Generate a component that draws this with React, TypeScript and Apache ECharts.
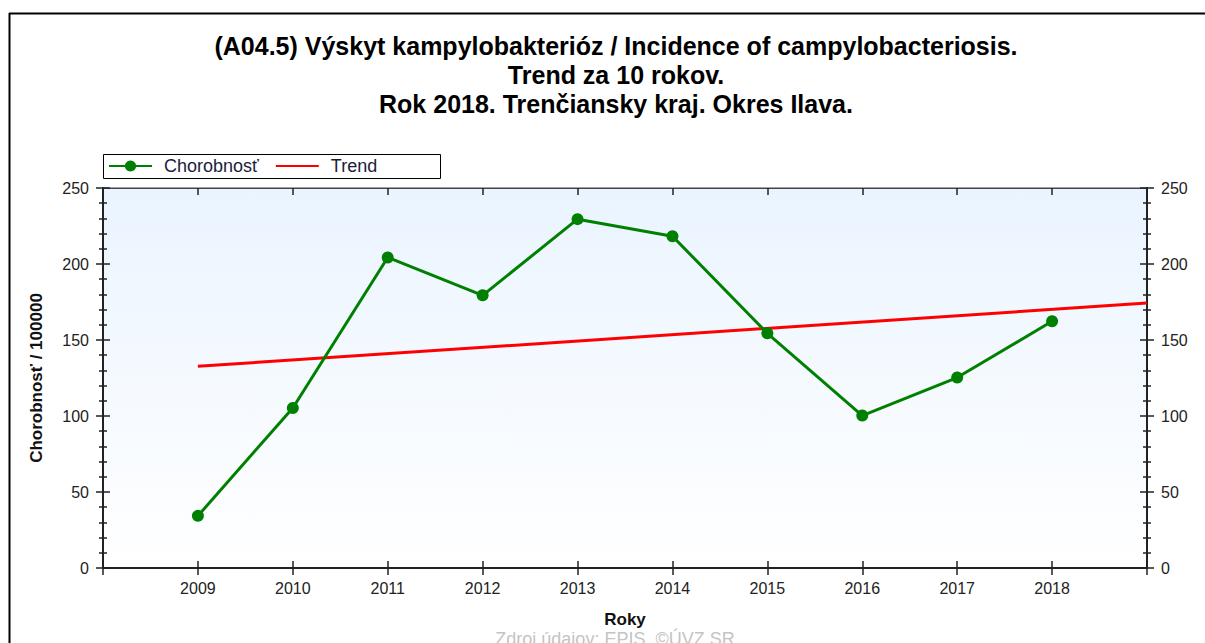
import React, { useEffect, useRef } from "react";
import * as echarts from "echarts";

const titleLines = [
  "(A04.5) Výskyt kampylobakterióz / Incidence of campylobacteriosis.",
  "Trend za 10 rokov.",
  "Rok 2018. Trenčiansky kraj. Okres Ilava.",
];
const years = [2009, 2010, 2011, 2012, 2013, 2014, 2015, 2016, 2017, 2018];
const incidence = [34.3, 105.3, 204.3, 179.4, 229.5, 218.3, 154.4, 100.3, 125.3, 162.3];
const trendYears = [2009, 2019];
const trendValues = [132.7, 174.3];
const seriesNames = ["Chorobnosť", "Trend"];
const yAxisName = "Chorobnosť / 100000";
const xAxisName = "Roky";
const footer = "Zdroj údajov: EPIS, ©ÚVZ SR";

const FONT = "Liberation Sans, Arial, sans-serif";

export default function App() {
  const ref = useRef<HTMLDivElement>(null);
  useEffect(() => {
    if (!ref.current) return;
    const chart = echarts.init(ref.current, null, { renderer: "svg" });
    const labelFmt = (v: number) => (v >= years[0] && v <= years[years.length - 1] ? String(v) : "");
    const tickStyle = { color: "#222", width: 1.5 };
    const yCommon = {
      type: "value",
      min: 0,
      max: 250,
      interval: 50,
      splitLine: { show: false },
      axisLine: { show: true, lineStyle: { color: "#222", width: 2 } },
      axisTick: { show: true, length: 7, lineStyle: tickStyle },
      minorTick: { show: true, splitNumber: 5, length: 4, lineStyle: tickStyle },
      axisLabel: { fontSize: 16, color: "#222", fontFamily: FONT, margin: 14 },
    };
    const yInner = {
      type: "value",
      min: 0,
      max: 250,
      interval: 50,
      splitLine: { show: false },
      axisLine: { show: false },
      axisTick: { show: true, inside: true, length: 7, lineStyle: tickStyle },
      minorTick: { show: true, splitNumber: 5, length: 4, lineStyle: tickStyle },
      axisLabel: { show: false },
    };
    chart.setOption({
      animation: false,
      backgroundColor: "#fff",
      textStyle: { fontFamily: FONT },
      graphic: [
        { type: "line", shape: { x1: 9, y1: 13.5, x2: 1205, y2: 13.5 }, style: { stroke: "#000", lineWidth: 2 } },
        { type: "line", shape: { x1: 9.5, y1: 13, x2: 9.5, y2: 643 }, style: { stroke: "#000", lineWidth: 2 } },
        {
          type: "text",
          x: 616,
          y: 31,
          style: {
            text: titleLines.join("\n"),
            textAlign: "center",
            font: "bold 25px " + FONT,
            lineHeight: 29,
            fill: "#000",
          },
        },
        {
          type: "rect",
          shape: { x: 103.5, y: 154.5, width: 337, height: 24 },
          style: { fill: "#fff", stroke: "#000", lineWidth: 1 },
          z: -1,
        },
        {
          type: "text",
          x: 615,
          y: 630,
          style: { text: footer, textAlign: "center", font: "18px " + FONT, fill: "#c4c4c4" },
        },
      ],
      legend: {
        left: 108,
        top: 157,
        itemWidth: 43,
        itemHeight: 14,
        itemGap: 16,
        padding: 0,
        textStyle: { fontSize: 18, color: "#1c1c3a", fontFamily: FONT, padding: [0, 0, 0, 7] },
        data: seriesNames,
      },
      grid: {
        left: 103,
        right: 58,
        top: 188,
        bottom: 75,
        show: true,
        borderColor: "#444",
        borderWidth: 1,
        backgroundColor: new echarts.graphic.LinearGradient(0, 0, 0, 1, [
          { offset: 0, color: "#eaf4ff" },
          { offset: 1, color: "#ffffff" },
        ]),
      },
      xAxis: [
        {
          type: "value",
          min: 2008,
          max: 2019,
          interval: 1,
          position: "bottom",
          splitLine: { show: false },
          axisLine: { show: true, onZero: false, lineStyle: { color: "#222", width: 2 } },
          axisTick: { show: true, length: 7, lineStyle: tickStyle },
          axisLabel: { fontSize: 16, color: "#222", fontFamily: FONT, margin: 12, formatter: labelFmt },
          name: xAxisName,
          nameLocation: "middle",
          nameGap: 43,
          nameTextStyle: { fontSize: 17, fontWeight: "bold", color: "#111", fontFamily: FONT },
        },
        {
          type: "value",
          min: 2008,
          max: 2019,
          interval: 1,
          position: "top",
          splitLine: { show: false },
          axisLine: { show: true, onZero: false, lineStyle: { color: "#444", width: 1 } },
          axisTick: { show: true, inside: true, length: 7, lineStyle: tickStyle },
          axisLabel: { show: false },
        },
        {
          type: "value",
          min: 2008,
          max: 2019,
          interval: 1,
          position: "bottom",
          splitLine: { show: false },
          axisLine: { show: false, onZero: false },
          axisTick: { show: true, inside: true, length: 7, lineStyle: tickStyle },
          axisLabel: { show: false },
        },
      ],
      yAxis: [
        {
          ...yCommon,
          position: "left",
          name: yAxisName,
          nameLocation: "middle",
          nameGap: 58,
          nameTextStyle: { fontSize: 17, fontWeight: "bold", color: "#111", fontFamily: FONT },
        },
        { ...yCommon, position: "right" },
        { ...yInner, position: "left" },
        { ...yInner, position: "right" },
      ],
      series: [
        {
          name: seriesNames[0],
          type: "line",
          data: years.map((y, i) => [y, incidence[i]]),
          symbol: "circle",
          symbolSize: 12,
          lineStyle: { color: "#008000", width: 3 },
          itemStyle: { color: "#008000" },
          z: 3,
        },
        {
          name: seriesNames[1],
          type: "line",
          data: trendYears.map((y, i) => [y, trendValues[i]]),
          symbol: "none",
          lineStyle: { color: "#ff0000", width: 3 },
          itemStyle: { color: "#ff0000", opacity: 0 },
          z: 2,
        },
      ],
    });
    return () => chart.dispose();
  }, []);
  return <div ref={ref} style={{ position: "absolute", left: 0, top: 0, width: 1205, height: 643 }} />;
}
